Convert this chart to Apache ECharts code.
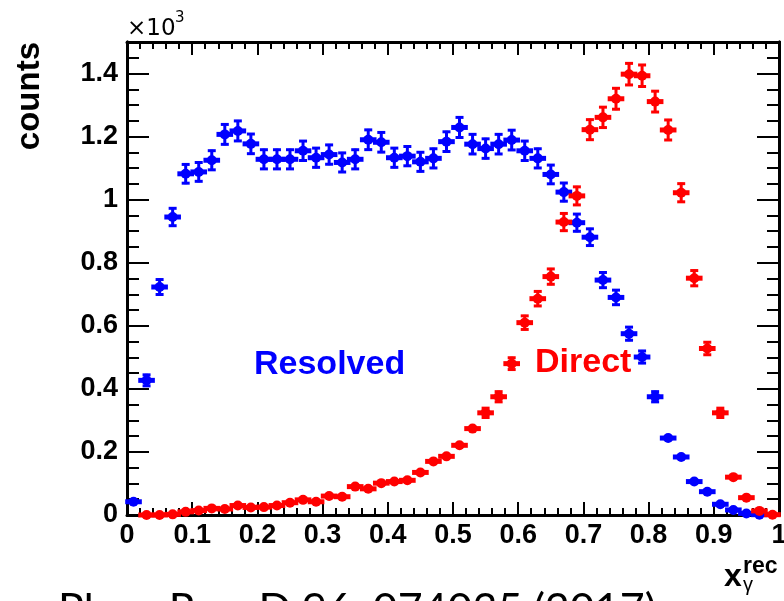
<!DOCTYPE html>
<html>
<head>
<meta charset="utf-8">
<script src="https://cdn.jsdelivr.net/npm/echarts@6/dist/echarts.min.js"></script>
<style>
  html, body { margin: 0; padding: 0; background: #ffffff; }
  #chart { width: 784px; height: 601px; }
</style>
</head>
<body>
<div id="chart"></div>
<script>
// Reconstructed photon momentum fraction x_gamma^rec, 50 bins of width 0.02
const binCenters = [
  0.01, 0.03, 0.05, 0.07, 0.09, 0.11, 0.13, 0.15, 0.17, 0.19,
  0.21, 0.23, 0.25, 0.27, 0.29, 0.31, 0.33, 0.35, 0.37, 0.39,
  0.41, 0.43, 0.45, 0.47, 0.49, 0.51, 0.53, 0.55, 0.57, 0.59,
  0.61, 0.63, 0.65, 0.67, 0.69, 0.71, 0.73, 0.75, 0.77, 0.79,
  0.81, 0.83, 0.85, 0.87, 0.89, 0.91, 0.93, 0.95, 0.97, 0.99
];
const binHalfWidth = 0.01;

// Counts in units of 10^3 (null = empty bin, not drawn)
const resolvedCounts = [
  0.042, 0.427, 0.723, 0.945, 1.082, 1.088, 1.125, 1.207, 1.218, 1.177,
  1.128, 1.128, 1.128, 1.155, 1.133, 1.143, 1.118, 1.128, 1.190, 1.182,
  1.133, 1.138, 1.120, 1.131, 1.184, 1.229, 1.176, 1.162, 1.176, 1.189,
  1.155, 1.131, 1.080, 1.024, 0.927, 0.881, 0.745, 0.690, 0.575, 0.501,
  0.375, 0.244, 0.184, 0.106, 0.074, 0.034, 0.016, 0.005, 0.001, null
];
const directCounts = [
  null, 0.000, 0.000, 0.002, 0.010, 0.014, 0.021, 0.019, 0.030, 0.024,
  0.025, 0.030, 0.039, 0.048, 0.042, 0.060, 0.058, 0.090, 0.083, 0.101,
  0.106, 0.110, 0.135, 0.170, 0.186, 0.221, 0.274, 0.324, 0.375, 0.480,
  0.610, 0.686, 0.756, 0.929, 1.012, 1.222, 1.261, 1.320, 1.398, 1.393,
  1.311, 1.221, 1.022, 0.751, 0.528, 0.324, 0.120, 0.055, 0.013, 0.001
];

const xRange = [0, 1];
const yRange = [0, 1.5];
const xMajorStep = 0.1;
const yMajorStep = 0.2;
const yMinorStep = 0.05;

const RESOLVED_COLOR = '#0000ff';
const DIRECT_COLOR = '#ff0000';
const LABEL_FONT = 'Liberation Sans';
const TEXT_FONT = 'Liberation Sans';

// Poisson statistical uncertainty of a bin, in units of 10^3
function statError(countK) {
  return Math.sqrt(countK * 1000) / 1000;
}

function toPoints(counts) {
  const pts = [];
  counts.forEach(function (v, i) {
    if (v === null) return;
    pts.push([binCenters[i], v, statError(v), binHalfWidth]);
  });
  return pts;
}

// Marker with horizontal bin-width bar and vertical error bar with end caps
function errorMarker(color) {
  return function (params, api) {
    const x = api.value(0), y = api.value(1), err = api.value(2), hw = api.value(3);
    const c = api.coord([x, y]);
    const left = api.coord([x - hw, y])[0] - 1.8;
    const right = api.coord([x + hw, y])[0] + 1.8;
    const top = api.coord([x, y + err])[1];
    const bot = api.coord([x, y - err])[1];
    const children = [
      { type: 'rect', shape: { x: left, y: c[1] - 2.5, width: right - left, height: 5 }, style: { fill: color } },
      { type: 'circle', shape: { cx: c[0], cy: c[1], r: 5 }, style: { fill: color } }
    ];
    if (c[1] - top > 5.5) {
      children.push({ type: 'rect', shape: { x: c[0] - 1.5, y: top, width: 3, height: bot - top }, style: { fill: color } });
      children.push({ type: 'rect', shape: { x: c[0] - 4, y: top - 0.5, width: 8, height: 3 }, style: { fill: color } });
      children.push({ type: 'rect', shape: { x: c[0] - 4, y: bot - 2.5, width: 8, height: 3 }, style: { fill: color } });
    }
    return { type: 'group', children: children };
  };
}

const axisLineStyle = { color: '#000', width: 3 };
const tickStyle = { color: '#000', width: 2 };
const tickLabel = {
  fontFamily: LABEL_FONT, fontWeight: 'bold', fontSize: 27, color: '#000'
};

function xAxisDef(position, withLabels) {
  return {
    type: 'value', position: position, min: xRange[0], max: xRange[1], interval: xMajorStep,
    axisLine: { show: true, onZero: false, lineStyle: axisLineStyle },
    axisTick: { show: true, inside: true, length: 13, lineStyle: tickStyle },
    minorTick: { show: true, splitNumber: 5, length: 7, lineStyle: tickStyle },
    axisLabel: withLabels ? Object.assign({ show: true, margin: 7 }, tickLabel) : { show: false },
    splitLine: { show: false }, minorSplitLine: { show: false }
  };
}

function yAxisDef(position, step, tickLen, withLabels) {
  return {
    type: 'value', position: position, min: yRange[0], max: yRange[1], interval: step,
    axisLine: { show: true, onZero: false, lineStyle: axisLineStyle },
    axisTick: { show: true, inside: true, length: tickLen, lineStyle: tickStyle },
    axisLabel: withLabels
      ? Object.assign({ show: true, margin: 9, showMaxLabel: false }, tickLabel)
      : { show: false },
    splitLine: { show: false }
  };
}

const chart = echarts.init(document.getElementById('chart'), null, { renderer: 'canvas' });

chart.setOption({
  animation: false,
  backgroundColor: '#ffffff',
  grid: { left: 127, right: 5, top: 42, bottom: 86, containLabel: false, outerBoundsMode: 'none' },
  xAxis: [xAxisDef('bottom', true), xAxisDef('top', false)],
  yAxis: [
    yAxisDef('left', yMajorStep, 22, true),
    yAxisDef('left', yMinorStep, 12, false),
    yAxisDef('right', yMajorStep, 22, false),
    yAxisDef('right', yMinorStep, 12, false)
  ],
  series: [
    {
      name: 'Resolved', type: 'custom', xAxisIndex: 0, yAxisIndex: 0, clip: false, z: 3,
      renderItem: errorMarker(RESOLVED_COLOR),
      encode: { x: 0, y: 1 },
      data: toPoints(resolvedCounts)
    },
    {
      name: 'Direct', type: 'custom', xAxisIndex: 0, yAxisIndex: 0, clip: false, z: 4,
      renderItem: errorMarker(DIRECT_COLOR),
      encode: { x: 0, y: 1 },
      data: toPoints(directCounts)
    }
  ],
  graphic: [
    { type: 'text', x: 30, y: 42, rotation: Math.PI / 2, z: 10,
      style: { text: 'counts', font: 'bold 33px "' + TEXT_FONT + '"', fill: '#000', align: 'right', verticalAlign: 'middle' } },
    { type: 'text', x: 127, y: 29.5, z: 10,
      style: { text: '×10', font: '23px "DejaVu Sans"', fill: '#000', align: 'left', verticalAlign: 'middle' } },
    { type: 'text', x: 175, y: 18.5, z: 10,
      style: { text: '3', font: '15px "DejaVu Sans"', fill: '#000', align: 'left', verticalAlign: 'middle' } },
    { type: 'text', x: 254, y: 364.5, z: 10,
      style: { text: 'Resolved', font: 'bold 34px "' + TEXT_FONT + '"', fill: RESOLVED_COLOR, align: 'left', verticalAlign: 'middle' } },
    { type: 'text', x: 535, y: 362.5, z: 10,
      style: { text: 'Direct', font: 'bold 34px "' + TEXT_FONT + '"', fill: DIRECT_COLOR, align: 'left', verticalAlign: 'middle' } },
    { type: 'text', x: 724, y: 577, z: 10,
      style: { text: 'x', font: 'bold 32px "' + TEXT_FONT + '"', fill: '#000', align: 'left', verticalAlign: 'middle' } },
    { type: 'text', x: 743, y: 567, z: 10,
      style: { text: 'rec', font: 'bold 23px "' + TEXT_FONT + '"', fill: '#000', align: 'left', verticalAlign: 'middle' } },
    { type: 'text', x: 743, y: 585, z: 10,
      style: { text: 'γ', font: '20px "' + TEXT_FONT + '"', fill: '#000', align: 'left', verticalAlign: 'middle' } },
    { type: 'text', x: 58, y: 610, z: 10,
      style: { text: 'Phys. Rev. D 96, 074035 (2017)', font: '43px Lato', fill: '#000', align: 'left', verticalAlign: 'middle' } }
  ]
});
</script>
</body>
</html>
